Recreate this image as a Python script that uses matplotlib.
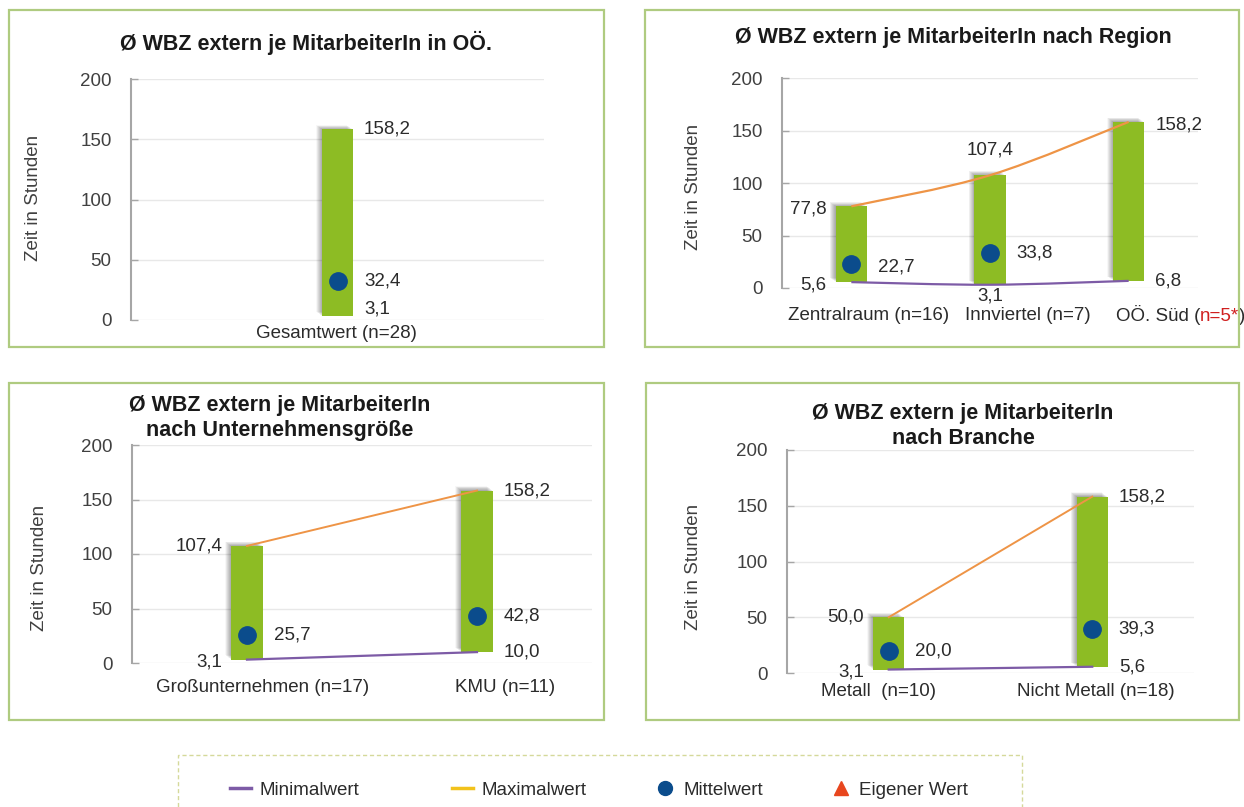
import matplotlib
matplotlib.use("Agg")
import matplotlib.pyplot as plt
from matplotlib.patches import Rectangle, PathPatch
from matplotlib.path import Path
from matplotlib.lines import Line2D
from matplotlib import patheffects as pe

plt.rcParams["font.family"] = ["Liberation Sans", "DejaVu Sans"]

# ---- data -------------------------------------------------------------
y_ticks = [0, 50, 100, 150, 200]

total_categories = ["Gesamtwert (n=28)"]
total_min = [3.1]
total_max = [158.2]
total_mean = [32.4]

region_categories = ["Zentralraum (n=16)", "Innviertel (n=7)", "OÖ. Süd (n=5*)"]
region_min = [5.6, 3.1, 6.8]
region_max = [77.8, 107.4, 158.2]
region_mean = [22.7, 33.8, None]
region_small_sample = "n=5*"

size_categories = ["Großunternehmen (n=17)", "KMU (n=11)"]
size_min = [3.1, 10.0]
size_max = [107.4, 158.2]
size_mean = [25.7, 42.8]

branch_categories = ["Metall  (n=10)", "Nicht Metall (n=18)"]
branch_min = [3.1, 5.6]
branch_max = [50.0, 158.2]
branch_mean = [20.0, 39.3]

legend_labels = ["Minimalwert", "Maximalwert", "Mittelwert", "Eigener Wert"]

# ---- style ------------------------------------------------------------
W, H = 1244, 807
GREEN = "#8DBC24"
NAVY = "#0B4C8C"
ORANGE = "#EE9446"
PURPLE = "#7D5BA6"
YELLOW = "#F2C21B"
RED = "#E8461E"
FRAME = "#AFCB80"
TEXT = "#2B2B2B"
TICK = "#404040"
FS = 13.5

fig = plt.figure(figsize=(W / 100, H / 100), dpi=100)


def fx(px):
    return px / W


def fy(py):
    return 1 - py / H


def axes_px(left, top, right, bottom):
    return fig.add_axes([fx(left), fy(bottom), (right - left) / W, (bottom - top) / H])


def fmt(v):
    return f"{v:.1f}".replace(".", ",")


def smooth_path(xs, ys):
    # Catmull-Rom style cubic Bezier through all points
    pts = list(zip(xs, ys))
    verts = [pts[0]]
    codes = [Path.MOVETO]
    for i in range(len(pts) - 1):
        p0 = pts[i - 1] if i > 0 else pts[i]
        p1 = pts[i]
        p2 = pts[i + 1]
        p3 = pts[i + 2] if i + 2 < len(pts) else pts[i + 1]
        c1 = (p1[0] + (p2[0] - p0[0]) / 6, p1[1] + (p2[1] - p0[1]) / 6)
        c2 = (p2[0] - (p3[0] - p1[0]) / 6, p2[1] - (p3[1] - p1[1]) / 6)
        verts += [c1, c2, p2]
        codes += [Path.CURVE4] * 3
    return Path(verts, codes)


# soft drop shadow to the upper left of each bar
shadow = [pe.SimplePatchShadow(offset=(-0.35 * k, 0.25 * k), shadow_rgbFace="black", alpha=0.03)
          for k in range(1, 13)] + [pe.Normal()]


def panel(ax, cats, vmin, vmax, vmean, bar_w, smooth, placement, cat_dx, cat_dy):
    n = len(cats)
    xs = list(range(n))
    ax.set_xlim(-0.5, n - 0.5)
    ax.set_ylim(0, 200)
    ax.set_yticks(y_ticks)
    ax.set_xticks([])
    for s in ("top", "right", "bottom"):
        ax.spines[s].set_visible(False)
    ax.spines["left"].set_color("#A6A6A6")
    ax.spines["left"].set_linewidth(1.5)
    ax.tick_params(axis="y", direction="in", length=5, width=1, color="#A6A6A6",
                   labelsize=FS, labelcolor=TICK, pad=14)
    ax.yaxis.grid(True, color="#E8E8E8", lw=1)
    ax.set_axisbelow(True)
    ax.patch.set_alpha(0)

    heights = [mx - mn for mx, mn in zip(vmax, vmin)]
    ax.bar(xs, heights, bottom=vmin, width=bar_w, color=GREEN, zorder=2,
           path_effects=shadow)

    if n > 1:
        if smooth:
            ax.add_patch(PathPatch(smooth_path(xs, vmax), fill=False, ec=ORANGE, lw=1.6, zorder=3))
            ax.add_patch(PathPatch(smooth_path(xs, vmin), fill=False, ec=PURPLE, lw=1.6, zorder=3))
        else:
            ax.plot(xs, vmax, color=ORANGE, lw=1.4, zorder=3)
            ax.plot(xs, vmin, color=PURPLE, lw=1.6, zorder=3)

    for x, m in zip(xs, vmean):
        if m is not None:
            ax.plot([x], [m], "o", ms=12.5, color=NAVY, mec=NAVY, zorder=4)

    series = {"max": vmax, "mean": vmean, "min": vmin}
    for i, x in enumerate(xs):
        for key, (side, dy) in placement[i].items():
            v = series[key][i]
            if v is None:
                continue
            if side == "right":
                xy, off, ha = (x + bar_w / 2, v), (11, dy), "left"
            elif side == "left":
                xy, off, ha = (x - bar_w / 2, v), (-9, dy), "right"
            else:
                xy, off, ha = (x, v), (0, dy), "center"
            ax.annotate(fmt(v), xy=xy, xytext=off, textcoords="offset pixels",
                        ha=ha, va="center", fontsize=FS, color=TEXT, zorder=5)

    for i, (x, c) in enumerate(zip(xs, cats)):
        ax.annotate(c, xy=(x, 0), xycoords=("data", "axes fraction"),
                    xytext=(cat_dx[i], -cat_dy), textcoords="offset pixels",
                    ha="center", va="center", fontsize=FS, color=TEXT)


# ---- frames around the four charts ------------------------------------
for (l, t, r, b) in [(9, 10, 604, 347), (645, 10, 1239, 347),
                     (9, 383, 604, 720), (646, 383, 1239, 720)]:
    fig.add_artist(Rectangle((fx(l), fy(b)), (r - l) / W, (b - t) / H,
                             transform=fig.transFigure, fill=False, ec=FRAME, lw=1.6))

# ---- chart 1: total ---------------------------------------------------
ax1 = axes_px(131, 79, 544, 320)
panel(ax1, total_categories, total_min, total_max, total_mean, 0.075, False,
      [{"max": ("right", 0), "mean": ("right", 0), "min": ("right", 7)}],
      [-1], 13)
fig.text(fx(306), fy(43), "Ø WBZ extern je MitarbeiterIn in OÖ.", ha="center", va="center",
         fontsize=15.5, fontweight="bold", color="#1A1A1A")
fig.text(fx(33), fy(198), "Zeit in Stunden", rotation=90, ha="center", va="center",
         fontsize=FS, color=TICK)

# ---- chart 2: region --------------------------------------------------
ax2 = axes_px(782, 78, 1198, 288)
region_plain = [c if region_small_sample not in c else "" for c in region_categories]
panel(ax2, region_plain, region_min, region_max, region_mean, 0.224, True,
      [{"max": ("left", -3), "mean": ("right", -3), "min": ("left", -3)},
       {"max": ("above", 25), "mean": ("right", 0), "min": ("above", -11)},
       {"max": ("right", -3), "min": ("right", 0)}],
      [17, 38, 48], 27)
# category with the small-sample marker in red
for i, c in enumerate(region_categories):
    if region_small_sample in c:
        head, tail = c.split(region_small_sample)
        t1 = ax2.annotate(head, xy=(i, 0), xycoords=("data", "axes fraction"),
                          xytext=(-13, -27), textcoords="offset pixels",
                          ha="left", va="center", fontsize=FS, color=TEXT)
        t2 = ax2.annotate(region_small_sample, xy=(1, 0), xycoords=t1,
                          ha="left", va="bottom", fontsize=FS, color="#D02020")
        ax2.annotate(tail, xy=(1, 0), xycoords=t2,
                     ha="left", va="bottom", fontsize=FS, color=TEXT)
fig.text(fx(953), fy(37), "Ø WBZ extern je MitarbeiterIn nach Region", ha="center", va="center",
         fontsize=15.5, fontweight="bold", color="#1A1A1A")
fig.text(fx(693), fy(187), "Zeit in Stunden", rotation=90, ha="center", va="center",
         fontsize=FS, color=TICK)

# ---- chart 3: company size --------------------------------------------
ax3 = axes_px(132, 445, 592, 663)
panel(ax3, size_categories, size_min, size_max, size_mean, 0.139, False,
      [{"max": ("left", 0), "mean": ("right", 0), "min": ("left", -2)},
       {"max": ("right", 0), "mean": ("right", 0), "min": ("right", 0)}],
      [16, 28], 25)
fig.text(fx(280), fy(418), "Ø WBZ extern je MitarbeiterIn\nnach Unternehmensgröße", ha="center",
         va="center", ma="center", fontsize=15.5, fontweight="bold", color="#1A1A1A",
         linespacing=1.2)
fig.text(fx(39), fy(568), "Zeit in Stunden", rotation=90, ha="center", va="center",
         fontsize=FS, color=TICK)

# ---- chart 4: branch --------------------------------------------------
ax4 = axes_px(787, 450, 1194, 673)
panel(ax4, branch_categories, branch_min, branch_max, branch_mean, 0.153, False,
      [{"max": ("left", 0), "mean": ("right", 0), "min": ("left", -2)},
       {"max": ("right", 0), "mean": ("right", 0), "min": ("right", 0)}],
      [-10, 4], 19)
fig.text(fx(963), fy(426), "Ø WBZ extern je MitarbeiterIn\nnach Branche", ha="center",
         va="center", ma="center", fontsize=15.5, fontweight="bold", color="#1A1A1A",
         linespacing=1.2)
fig.text(fx(693), fy(567), "Zeit in Stunden", rotation=90, ha="center", va="center",
         fontsize=FS, color=TICK)

# ---- shared legend ----------------------------------------------------
fig.add_artist(Rectangle((fx(178), fy(815)), (1022 - 178) / W, (815 - 755) / H,
                         transform=fig.transFigure, fill=False, ec="#D5D99A",
                         lw=1, ls=(0, (3, 2))))
handles = [
    Line2D([], [], color=PURPLE, lw=2.5),
    Line2D([], [], color=YELLOW, lw=2.5),
    Line2D([], [], ls="none", marker="o", ms=10, color=NAVY),
    Line2D([], [], ls="none", marker="^", ms=10, color=RED),
]
for h, lab, x0 in zip(handles, legend_labels, [230, 452, 654, 830]):
    fig.legend(handles=[h], labels=[lab], loc="center left",
               bbox_to_anchor=(fx(x0), fy(790)), frameon=False, fontsize=FS,
               handlelength=1.12, handletextpad=0.45, borderpad=0, borderaxespad=0,
               labelcolor=TEXT)

fig.savefig("out.png", dpi=100, facecolor="white")
